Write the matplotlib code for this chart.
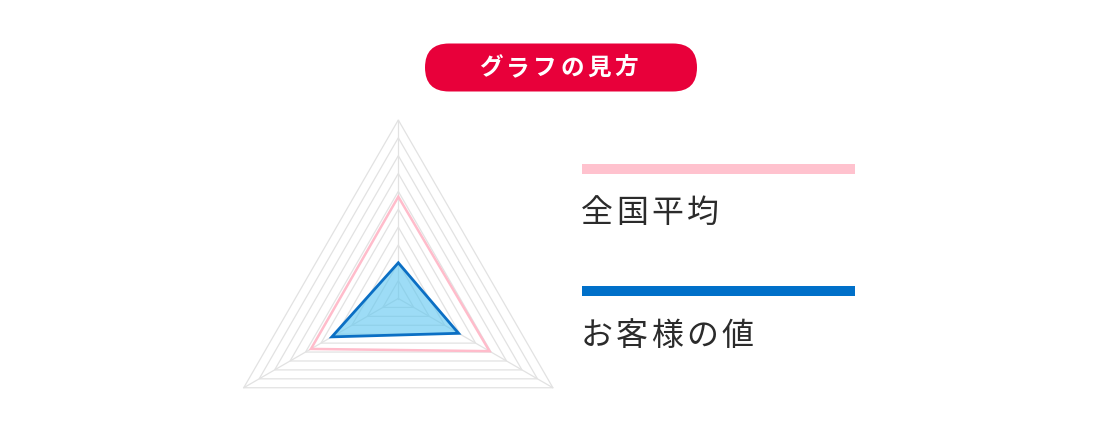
import numpy as np
import matplotlib
matplotlib.use("Agg")
import matplotlib.pyplot as plt
from matplotlib.patches import FancyBboxPatch, Polygon

plt.rcParams["font.family"] = ["Noto Sans CJK JP", "DejaVu Sans"]

# data
axis_labels = ["A", "B", "C"]          # top, lower right, lower left (labels hidden)
national_avg = [5.7, 5.9, 5.65]
customer = [2.0, 3.9, 4.3]
grid_levels = list(range(1, 11))
legend_labels = ["全国平均", "お客様の値"]
badge_text = "グラフの見方"

W, H = 1120, 434
fig = plt.figure(figsize=(W / 100, H / 100), dpi=100)

# radar axes: centre at (398, 298.5) px, radius 10 -> 178.5 px
cx, cy, rpx = 398.3, 298.5, 178.5
half = 200
ax = fig.add_axes([(cx - half) / W, (H - cy - half) / H, 2 * half / W, 2 * half / H])
lim = 10 * half / rpx
ax.set_xlim(-lim, lim)
ax.set_ylim(-lim, lim)
ax.set_aspect("equal")
ax.axis("off")

angles = np.deg2rad([90, -30, 210])


def to_xy(vals):
    vals = np.asarray(vals, dtype=float)
    return np.column_stack([vals * np.cos(angles), vals * np.sin(angles)])


grid_col = "#e2e2e2"
for lv in grid_levels:
    ax.add_patch(Polygon(to_xy([lv] * 3), closed=True, fill=False,
                         edgecolor=grid_col, lw=0.9, zorder=1))
for a in angles:
    ax.plot([0, 10 * np.cos(a)], [0, 10 * np.sin(a)], color=grid_col, lw=0.9, zorder=1)

ax.add_patch(Polygon(to_xy(national_avg), closed=True, fill=False,
                     edgecolor="#ffbccb", lw=1.8, joinstyle="miter", zorder=3))
ax.add_patch(Polygon(to_xy(customer), closed=True, facecolor="#5cc6f0", alpha=0.6,
                     edgecolor="none", zorder=4))
ax.add_patch(Polygon(to_xy(customer), closed=True, fill=False,
                     edgecolor="#0b6fc4", lw=2.0, joinstyle="miter", zorder=5))

# overlay in pixel coords (y measured from top, converted)
ui = fig.add_axes([0, 0, 1, 1])
ui.set_xlim(0, W)
ui.set_ylim(0, H)
ui.axis("off")


def py(y):
    return H - y


ui.add_patch(FancyBboxPatch((425, py(91.5)), 272, 48, boxstyle="round,pad=0,rounding_size=24",
                            facecolor="#e8003a", edgecolor="none"))


def spaced_text(x0, y, text, step, **kw):
    for i, ch in enumerate(text):
        ui.text(x0 + i * step, py(y), ch, ha="left", va="center", **kw)


spaced_text(479, 68, badge_text, 27.0, fontsize=17, color="white", fontweight="bold")

legend_colors = ["#ffc2ce", "#0070c9"]
legend_line_y = [169, 291]
legend_text_y = [213, 336]
for lab, col, ly, ty in zip(legend_labels, legend_colors, legend_line_y, legend_text_y):
    ui.plot([582, 855], [py(ly), py(ly)], color=col, lw=7.2, solid_capstyle="butt")
    spaced_text(581, ty, lab, 35.2, fontsize=23, color="#2b2b2b")

fig.savefig("out.png", dpi=100)
